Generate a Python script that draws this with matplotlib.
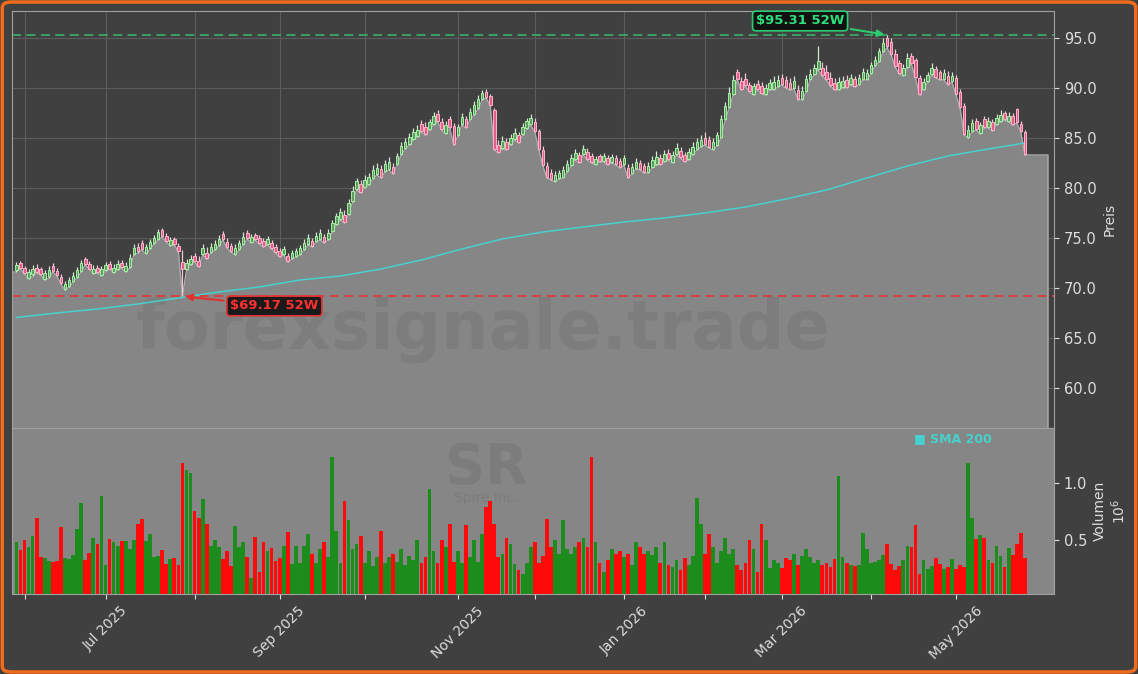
import numpy as np
import pandas as pd
import matplotlib
matplotlib.use("Agg")
import matplotlib.pyplot as plt
from matplotlib.patches import FancyBboxPatch

# trading calendar (index based x axis, like mplfinance)
holidays = ["2025-06-19", "2025-07-04", "2025-09-01", "2025-11-27", "2025-12-25",
            "2026-01-01", "2026-01-19", "2026-02-16", "2026-04-03", "2026-05-25"]
dates = pd.bdate_range("2025-05-29", periods=250, freq="C", holidays=holidays)

lows = [
    71.6, 71.9, 71.4, 70.9, 71.2, 71.5, 71.3, 70.8, 71.0, 71.6,
    71.2, 70.4, 69.8, 70.1, 70.6, 71.0, 71.6, 72.3, 71.9, 71.4,
    71.5, 71.2, 71.7, 71.9, 71.5, 71.8, 72.0, 71.6, 72.0, 73.3,
    73.5, 73.8, 73.4, 73.9, 74.4, 74.8, 75.1, 74.6, 74.2, 74.3,
    73.6, 69.17, 71.8, 72.3, 72.6, 72.1, 73.3, 72.9, 73.5, 73.8,
    74.2, 74.8, 74.0, 73.6, 73.3, 73.8, 74.3, 74.9, 74.5, 74.8,
    74.4, 74.1, 74.3, 73.9, 73.5, 73.1, 73.3, 72.6, 72.9, 73.1,
    73.3, 73.8, 74.3, 74.1, 74.6, 74.8, 74.5, 74.8, 75.6, 76.3,
    76.8, 76.5, 77.3, 78.6, 79.8, 79.5, 80.0, 80.3, 80.9, 81.3,
    81.0, 81.6, 81.8, 81.4, 82.3, 83.3, 83.9, 84.3, 84.8, 85.1,
    85.6, 85.3, 85.8, 86.3, 86.6, 85.8, 85.4, 86.0, 84.3, 85.2,
    86.3, 86.0, 86.8, 87.3, 87.9, 88.8, 89.0, 88.2, 83.8, 83.5,
    83.9, 83.8, 84.3, 84.8, 84.5, 85.3, 85.9, 86.3, 85.6, 83.8,
    82.2, 81.0, 80.8, 80.6, 80.9, 81.0, 81.6, 82.2, 82.8, 82.5,
    83.3, 82.8, 82.5, 82.3, 82.6, 82.6, 82.3, 82.5, 82.3, 82.0,
    82.3, 81.0, 81.4, 81.9, 81.8, 81.5, 81.5, 82.0, 82.3, 82.3,
    82.6, 82.8, 82.5, 83.3, 83.0, 82.6, 82.8, 83.3, 83.8, 84.1,
    84.3, 84.0, 83.8, 84.2, 85.0, 86.8, 88.0, 89.3, 90.8, 89.8,
    90.2, 89.6, 89.3, 89.8, 89.4, 89.3, 89.8, 89.8, 90.1, 90.3,
    90.0, 89.8, 89.9, 88.8, 88.8, 89.6, 90.8, 91.3, 91.8, 91.2,
    90.8, 90.2, 89.8, 89.8, 90.0, 90.0, 90.3, 90.1, 90.3, 90.8,
    90.8, 91.4, 92.2, 92.6, 93.6, 94.0, 93.3, 92.1, 91.4, 91.2,
    92.0, 92.4, 91.0, 89.3, 89.8, 90.6, 91.3, 91.0, 90.8, 90.8,
    90.3, 90.6, 89.3, 88.0, 85.3, 85.0, 85.6, 85.8, 85.4, 86.0,
    86.0, 85.7, 86.3, 86.6, 86.8, 86.6, 86.3, 86.5, 85.6, 83.3,
]

opens = [
    71.8, 72.5, 72.0, 71.0, 71.4, 72.0, 71.9, 70.9, 71.2, 72.2,
    71.7, 71.1, 69.9, 70.2, 70.7, 71.1, 71.7, 72.9, 72.4, 71.5,
    72.0, 71.3, 71.8, 72.4, 71.6, 71.9, 72.5, 71.7, 72.1, 73.4,
    74.1, 74.5, 73.5, 74.0, 74.5, 74.9, 75.8, 75.2, 74.3, 74.9,
    74.2, 72.6, 71.9, 72.4, 73.2, 72.7, 73.4, 73.5, 73.6, 73.9,
    74.3, 75.4, 74.6, 74.2, 73.4, 73.9, 74.4, 75.5, 74.6, 75.3,
    75.0, 74.7, 74.4, 74.5, 74.1, 73.7, 73.4, 73.2, 73.0, 73.2,
    73.4, 73.9, 74.4, 74.7, 74.7, 74.9, 75.1, 74.9, 75.7, 76.4,
    76.9, 77.3, 77.4, 78.7, 79.9, 80.4, 80.1, 80.4, 81.0, 81.4,
    81.9, 81.7, 81.9, 82.1, 82.4, 83.4, 84.0, 84.4, 84.9, 85.2,
    86.4, 86.1, 85.9, 86.4, 87.4, 86.6, 85.5, 86.9, 86.2, 85.3,
    86.4, 86.9, 86.9, 87.4, 88.0, 88.9, 89.6, 89.2, 87.8, 84.3,
    84.0, 84.6, 84.4, 84.9, 85.3, 85.4, 86.0, 86.4, 86.6, 85.7,
    83.8, 82.2, 81.5, 80.7, 81.0, 81.1, 81.7, 82.3, 82.9, 83.3,
    83.4, 83.6, 83.2, 82.4, 83.2, 82.7, 83.0, 82.6, 83.0, 82.7,
    82.4, 82.0, 81.5, 82.0, 82.5, 82.2, 81.6, 82.1, 82.4, 83.0,
    82.7, 83.5, 82.6, 83.4, 83.7, 83.3, 82.9, 83.4, 83.9, 84.2,
    85.0, 84.8, 83.9, 84.3, 85.1, 86.9, 88.1, 89.4, 91.6, 90.7,
    90.9, 90.3, 89.4, 90.4, 90.2, 89.4, 89.9, 89.9, 90.2, 91.0,
    90.8, 90.5, 90.0, 89.8, 88.9, 89.7, 90.9, 91.4, 91.9, 92.0,
    91.6, 91.0, 90.5, 89.9, 90.1, 90.8, 90.4, 90.9, 90.4, 90.9,
    90.9, 91.5, 92.3, 92.7, 93.7, 95.0, 94.6, 93.4, 92.5, 91.3,
    92.1, 93.2, 92.8, 91.0, 89.9, 90.7, 91.4, 91.9, 91.6, 90.9,
    91.2, 90.7, 91.0, 89.6, 88.2, 85.1, 85.7, 86.7, 85.5, 86.9,
    86.1, 86.6, 86.4, 86.7, 87.5, 86.7, 87.2, 87.9, 86.4, 85.6,
]

closes = [
    72.3, 72.0, 71.5, 71.6, 71.9, 71.6, 71.4, 71.5, 71.8, 71.7,
    71.3, 70.5, 70.4, 70.8, 71.2, 71.8, 72.5, 72.4, 71.9, 71.9,
    71.6, 71.9, 72.3, 71.9, 72.0, 72.4, 72.1, 72.2, 73.0, 74.0,
    73.7, 73.9, 74.1, 74.6, 75.0, 75.6, 75.2, 74.7, 74.8, 74.4,
    73.7, 71.9, 72.5, 72.9, 72.7, 72.2, 74.0, 73.0, 74.1, 74.4,
    74.9, 74.9, 74.1, 73.7, 74.0, 74.5, 75.1, 75.0, 75.1, 74.9,
    74.5, 74.2, 74.9, 74.0, 73.6, 73.2, 73.9, 72.7, 73.5, 73.7,
    74.0, 74.5, 75.0, 74.2, 75.2, 75.5, 74.6, 75.5, 76.5, 77.2,
    77.6, 76.6, 78.5, 79.7, 80.7, 79.6, 80.8, 81.1, 81.8, 82.0,
    81.1, 82.4, 82.6, 81.5, 83.2, 84.2, 84.6, 85.1, 85.6, 85.8,
    85.7, 85.4, 86.6, 87.2, 86.7, 85.9, 86.3, 86.1, 84.4, 86.1,
    87.1, 86.1, 87.6, 88.3, 88.9, 89.5, 89.1, 88.3, 83.9, 83.6,
    84.7, 83.9, 85.0, 85.5, 84.6, 86.1, 86.7, 87.0, 85.7, 83.9,
    82.3, 81.1, 80.9, 81.3, 81.5, 81.8, 82.4, 83.0, 83.5, 82.6,
    83.9, 82.9, 82.6, 82.9, 82.7, 83.2, 82.4, 83.1, 82.4, 82.1,
    83.0, 81.1, 82.1, 82.6, 81.9, 81.6, 82.2, 82.8, 83.1, 82.4,
    83.4, 82.9, 83.3, 84.0, 83.1, 82.7, 83.6, 84.1, 84.6, 84.8,
    84.4, 84.1, 84.6, 85.3, 86.9, 88.2, 89.5, 90.8, 90.9, 89.9,
    90.3, 89.7, 90.2, 89.9, 89.5, 90.0, 90.5, 90.6, 90.8, 90.4,
    90.1, 89.9, 90.7, 88.9, 89.7, 90.9, 91.4, 92.0, 92.7, 91.3,
    90.9, 90.3, 89.9, 90.6, 90.7, 90.1, 91.0, 90.2, 91.0, 91.6,
    91.5, 92.3, 92.8, 93.7, 94.5, 94.2, 93.4, 92.2, 91.5, 92.0,
    93.0, 92.5, 91.1, 89.4, 90.6, 91.3, 92.0, 91.1, 90.9, 91.5,
    90.4, 91.2, 89.4, 88.1, 85.4, 85.8, 86.5, 85.9, 86.3, 86.1,
    86.7, 85.8, 87.0, 87.3, 86.9, 87.2, 86.4, 86.6, 85.7, 83.4,
]

highs = [
    72.6, 72.7, 72.2, 71.9, 72.3, 72.4, 72.1, 71.8, 72.2, 72.5,
    72.0, 71.4, 70.7, 71.1, 71.6, 72.1, 72.8, 73.1, 72.7, 72.3,
    72.3, 72.2, 72.6, 72.7, 72.4, 72.8, 72.8, 72.6, 73.4, 74.4,
    74.5, 74.8, 74.4, 74.9, 75.3, 75.9, 76.0, 75.5, 75.1, 75.1,
    74.5, 73.8, 72.9, 73.3, 73.5, 73.2, 74.4, 74.1, 74.5, 74.8,
    75.3, 75.7, 75.0, 74.5, 74.4, 74.8, 75.6, 75.8, 75.4, 75.5,
    75.3, 75.0, 75.2, 74.8, 74.4, 74.0, 74.2, 73.5, 73.8, 74.0,
    74.3, 74.9, 75.4, 75.0, 75.6, 75.9, 75.4, 75.9, 76.8, 77.5,
    78.0, 77.8, 78.9, 80.2, 81.0, 80.8, 81.3, 81.5, 82.3, 82.5,
    82.3, 82.8, 83.1, 82.5, 83.5, 84.6, 85.0, 85.5, 86.0, 86.3,
    86.8, 86.6, 86.9, 87.6, 87.8, 87.0, 86.7, 87.2, 86.5, 86.4,
    87.5, 87.2, 88.0, 88.7, 89.3, 89.8, 89.9, 89.4, 88.0, 84.8,
    85.2, 85.0, 85.4, 86.0, 85.6, 86.5, 87.0, 87.4, 87.0, 85.9,
    84.2, 82.6, 81.9, 81.7, 81.8, 82.2, 82.8, 83.4, 83.9, 83.6,
    84.3, 84.0, 83.5, 83.2, 83.4, 83.5, 83.3, 83.4, 83.3, 83.0,
    83.3, 82.4, 82.5, 83.0, 82.8, 82.5, 82.6, 83.2, 83.7, 83.4,
    83.8, 83.9, 83.7, 84.5, 84.1, 83.6, 84.0, 84.6, 85.0, 85.3,
    85.6, 85.2, 85.0, 85.6, 87.3, 88.6, 90.1, 91.3, 91.9, 91.1,
    91.5, 90.6, 90.5, 90.8, 90.6, 90.4, 90.9, 91.2, 91.3, 91.4,
    91.2, 91.0, 91.2, 90.3, 90.2, 91.3, 91.9, 92.4, 94.2, 92.6,
    92.3, 91.6, 91.0, 91.1, 91.2, 91.3, 91.4, 91.2, 91.4, 92.0,
    91.9, 92.6, 93.2, 94.0, 95.0, 95.31, 95.0, 93.9, 92.8, 92.4,
    93.5, 93.5, 93.0, 91.3, 91.0, 91.6, 92.5, 92.2, 91.8, 91.9,
    91.7, 91.6, 91.3, 89.9, 88.5, 86.3, 86.9, 87.0, 86.6, 87.2,
    87.1, 86.9, 87.4, 87.8, 87.7, 87.6, 87.5, 88.0, 86.7, 85.8,
]

# volume in millions
volumes = [
    0.485, 0.41, 0.50, 0.44, 0.535, 0.696, 0.35, 0.342, 0.316, 0.307,
    0.316, 0.614, 0.342, 0.333, 0.37, 0.596, 0.825, 0.325, 0.386, 0.518,
    0.465, 0.886, 0.28, 0.509, 0.482, 0.447, 0.49, 0.49, 0.42, 0.50,
    0.64, 0.684, 0.49, 0.553, 0.35, 0.36, 0.41, 0.29, 0.333, 0.342,
    0.28, 1.175, 1.108, 1.085, 0.754, 0.696, 0.86, 0.64, 0.447, 0.50,
    0.44, 0.333, 0.40, 0.272, 0.623, 0.44, 0.482, 0.35, 0.167, 0.526,
    0.22, 0.482, 0.40, 0.43, 0.316, 0.342, 0.447, 0.57, 0.29, 0.447,
    0.30, 0.45, 0.55, 0.38, 0.30, 0.42, 0.48, 0.35, 1.23, 0.58,
    0.30, 0.84, 0.67, 0.42, 0.46, 0.53, 0.30, 0.40, 0.27, 0.35,
    0.58, 0.30, 0.35, 0.38, 0.31, 0.42, 0.28, 0.36, 0.32, 0.50,
    0.30, 0.35, 0.95, 0.40, 0.30, 0.50, 0.44, 0.64, 0.31, 0.40,
    0.30, 0.63, 0.35, 0.50, 0.31, 0.55, 0.79, 0.84, 0.64, 0.35,
    0.38, 0.52, 0.46, 0.29, 0.24, 0.20, 0.30, 0.44, 0.48, 0.30,
    0.36, 0.68, 0.44, 0.50, 0.38, 0.67, 0.42, 0.38, 0.44, 0.48,
    0.52, 0.44, 1.23, 0.48, 0.30, 0.22, 0.32, 0.42, 0.38, 0.40,
    0.35, 0.38, 0.28, 0.48, 0.44, 0.38, 0.40, 0.37, 0.44, 0.30,
    0.48, 0.28, 0.26, 0.32, 0.24, 0.34, 0.28, 0.36, 0.87, 0.64,
    0.38, 0.55, 0.44, 0.30, 0.40, 0.52, 0.38, 0.42, 0.28, 0.24,
    0.30, 0.50, 0.42, 0.22, 0.64, 0.50, 0.25, 0.32, 0.30, 0.25,
    0.34, 0.32, 0.38, 0.28, 0.36, 0.42, 0.35, 0.30, 0.32, 0.28,
    0.30, 0.26, 0.33, 1.06, 0.35, 0.30, 0.28, 0.27, 0.28, 0.56,
    0.42, 0.30, 0.31, 0.32, 0.37, 0.46, 0.29, 0.24, 0.27, 0.32,
    0.45, 0.44, 0.63, 0.20, 0.32, 0.245, 0.27, 0.34, 0.29, 0.245,
    0.26, 0.33, 0.245, 0.28, 0.26, 1.175, 0.69, 0.51, 0.54, 0.52,
    0.32, 0.30, 0.45, 0.36, 0.26, 0.43, 0.37, 0.46, 0.56, 0.34,
]

# SMA 200, sampled every 10 sessions
sma_idx = [0, 10, 20, 30, 40, 50, 60, 70, 80, 90, 100, 110, 120, 130, 140,
           150, 160, 170, 180, 190, 200, 210, 220, 230, 240, 249]
sma_vals = [67.05, 67.5, 67.9, 68.4, 69.0, 69.6, 70.1, 70.8, 71.2, 71.9, 72.8,
            73.9, 74.9, 75.6, 76.1, 76.6, 77.0, 77.5, 78.1, 78.9, 79.8, 81.0,
            82.2, 83.2, 83.9, 84.5]

o = np.array(opens)
c = np.array(closes)
h = np.maximum(np.array(highs), np.maximum(o, c))
l = np.minimum(np.array(lows), np.minimum(o, c))
v = np.array(volumes)
n = len(dates)
x = np.arange(n)
up = c >= o

BG = "#404040"
PANEL = "#868686"
fig = plt.figure(figsize=(11.38, 6.74), dpi=100, facecolor=BG)
ax = fig.add_axes([0.0105, 0.365, 0.9157, 0.6187])
axv = fig.add_axes([0.0105, 0.1187, 0.9157, 0.2463], sharex=ax)

xmin, xmax = -1.1, 256.2
ymin, ymax = 56.0, 97.7

ax.set_facecolor(BG)
ax.set_axisbelow(True)
ax.grid(True, color="#5c5c5c", lw=0.8)

# area under the lows, held flat out to both edges
x_ext = np.concatenate([[xmin], x, [xmax - 1.5]])
l_ext = np.concatenate([[l[0]], l, [l[-1]]])
ax.fill_between(x_ext, l_ext, ymin, color=PANEL, zorder=1, lw=0)
ax.plot(np.append(x_ext, x_ext[-1]), np.append(l_ext, ymin), color="#ababab", lw=1, zorder=1.2)

ax.text(0.452, 0.19, "forexsignale.trade", transform=ax.transAxes, fontsize=48,
        fontweight="bold", color="#7d7d7d", ha="center", va="baseline", zorder=1.5)

# SMA 200
ax.plot(sma_idx, sma_vals, color="mediumturquoise", lw=1.1, zorder=2)

# candles
wick_col = np.where(up, "#cfe8cf", "#f2c6d4")
ax.vlines(x, l, h, colors=wick_col, lw=0.9, zorder=3)
body_bot = np.minimum(o, c)
body_h = np.maximum(np.abs(c - o), 0.08)
ax.bar(x[up], body_h[up], bottom=body_bot[up], width=0.62, color="#5f9f5f",
       edgecolor="#a6f0a6", lw=0.7, zorder=4)
ax.bar(x[~up], body_h[~up], bottom=body_bot[~up], width=0.62, color="#e45d88",
       edgecolor="#ffb3c9", lw=0.7, zorder=4)

# 52 week high / low
hi_i = int(np.argmax(h))
lo_i = int(np.argmin(l))
ax.axhline(h[hi_i], color="#3aa868", lw=1.3, ls=(0, (5, 3)), zorder=2.5)
ax.axhline(l[lo_i], color="#e03a3a", lw=1.3, ls=(0, (5, 3)), zorder=2.5)
ax.annotate("\\$%.2f 52W" % h[hi_i], xy=(hi_i, h[hi_i]), xytext=(193.5, 96.7),
            color="#2ee07a", fontsize=9.5, fontweight="bold", ha="center", va="center",
            bbox=dict(boxstyle="round,pad=0.25", fc="#111111", ec="#2ecc71", lw=1.2),
            arrowprops=dict(arrowstyle="-|>", color="#2ecc71", lw=1.5, mutation_scale=10),
            zorder=6)
ax.annotate("\\$%.2f 52W" % l[lo_i], xy=(lo_i, l[lo_i]), xytext=(63.7, 68.2),
            color="#ff3030", fontsize=9.5, fontweight="bold", ha="center", va="center",
            bbox=dict(boxstyle="round,pad=0.25", fc="#1a1a1a", ec="#e03030", lw=1.2),
            arrowprops=dict(arrowstyle="-|>", color="#e03030", lw=1.5, mutation_scale=10),
            zorder=6)

ax.set_xlim(xmin, xmax)
ax.set_ylim(ymin, ymax)
ax.set_yticks(np.arange(60, 96, 5))
ax.set_yticklabels(["%.1f" % t for t in np.arange(60, 96, 5)])
ax.yaxis.tick_right()
ax.yaxis.set_label_position("right")
ax.set_ylabel("Preis", color="#dddddd", fontsize=10)
ax.tick_params(axis="x", labelbottom=False, length=0)
ax.tick_params(axis="y", colors="#dddddd", labelsize=10.5)

# volume panel
axv.set_facecolor(PANEL)
vol_col = np.where(up, "#1c8c1c", "#ff0a0a")
axv.bar(x, v, width=0.92, color=vol_col, lw=0, zorder=2)
axv.set_ylim(0.026, 1.48)
axv.set_yticks([0.5, 1.0])
axv.set_yticklabels(["0.5", "1.0"])
axv.yaxis.tick_right()
axv.yaxis.set_label_position("right")
axv.set_ylabel("Volumen\n$10^6$", color="#dddddd", fontsize=10)
axv.tick_params(axis="y", colors="#dddddd", labelsize=10.5)

axv.text(0.455, 0.67, "SR", transform=axv.transAxes, fontsize=40, fontweight="bold",
         color="#7c7c7c", ha="center", va="baseline", zorder=1)
axv.text(0.455, 0.62, "Spire Inc.", transform=axv.transAxes, fontsize=10,
         color="#7c7c7c", ha="center", va="top", zorder=1)

fig.text(0.803, 0.35, "\u25a0 SMA 200", color="mediumturquoise", fontsize=9,
         fontweight="bold", ha="left", va="center")

# month ticks, every second month labelled
months = dates.to_period("M")
tick_pos = [i for i in range(1, n) if months[i] != months[i - 1]]
tick_lab = [dates[i].strftime("%b %Y") if dates[i].month % 2 == 1 else "" for i in tick_pos]
axv.set_xticks(tick_pos)
axv.set_xticklabels(tick_lab, rotation=45, ha="center")
axv.tick_params(axis="x", colors="#dddddd", labelsize=10)
ax.set_xticks(tick_pos)

for a in (ax, axv):
    for s in a.spines.values():
        s.set_color("#a0a0a0")

fig.patches.append(FancyBboxPatch((0.002, 0.003), 0.996, 0.994,
                                  boxstyle="round,pad=0,rounding_size=0.008",
                                  transform=fig.transFigure, fill=False,
                                  ec="#f26a1b", lw=2.5))

fig.savefig("out.png", dpi=100, facecolor=BG)
